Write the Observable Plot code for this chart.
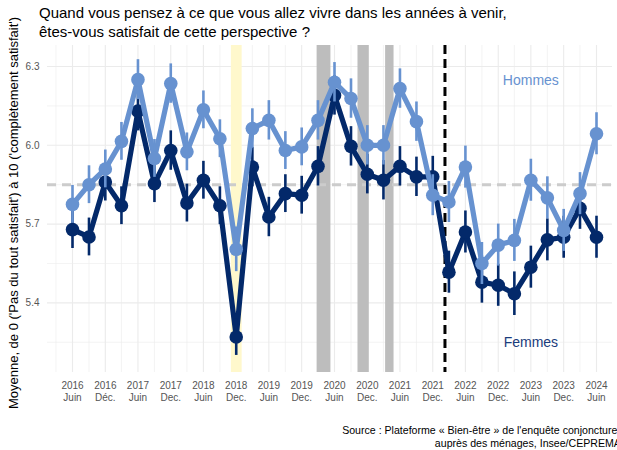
<!DOCTYPE html>
<html><head><meta charset="utf-8">
<script src="https://cdn.jsdelivr.net/npm/d3@7"></script>
<script src="https://cdn.jsdelivr.net/npm/@observablehq/plot@0.6"></script>
<style>
body{margin:0;width:617px;height:450px;overflow:hidden;background:#fff;font-family:"Liberation Sans",Arial,sans-serif;position:relative;}
#title{position:absolute;left:39px;top:3px;font-size:15px;line-height:19px;color:#000;white-space:nowrap;}
#chart{position:absolute;left:0;top:40px;}
#caption{position:absolute;left:0;top:424px;width:628px;text-align:right;font-size:10.6px;line-height:12.5px;color:#000;white-space:nowrap;}
</style></head><body>
<div id="title">Quand vous pensez à ce que vous allez vivre dans les années à venir,<br>êtes-vous satisfait de cette perspective ?</div>
<div id="chart"></div>
<div id="caption">Source : Plateforme « Bien-être » de l'enquête conjoncturelle<br>auprès des ménages, Insee/CEPREMAP</div>
<script>
// ---- data ----
const dates = ["2016-06","2016-09","2016-12","2017-03","2017-06","2017-09","2017-12","2018-03","2018-06","2018-09","2018-12",
  "2019-03","2019-06","2019-09","2019-12","2020-03","2020-06","2020-09","2020-12","2021-03","2021-06","2021-09","2021-12",
  "2022-03","2022-06","2022-09","2022-12","2023-03","2023-06","2023-09","2023-12","2024-03","2024-06"];
const hommes = [5.775,5.85,5.91,6.015,6.25,5.95,6.235,5.975,6.135,6.025,5.604,6.064,6.095,5.98,5.994,6.095,6.24,6.178,6.0,6.0,6.216,6.09,5.81,5.784,5.917,5.55,5.62,5.638,5.867,5.80,5.676,5.816,6.044];
const femmes = [5.679,5.651,5.86,5.77,6.13,5.854,5.98,5.78,5.867,5.77,5.27,5.917,5.727,5.816,5.81,5.92,6.19,5.996,5.89,5.867,5.92,5.88,5.88,5.517,5.67,5.479,5.467,5.435,5.536,5.64,5.65,5.76,5.65];
const ciHommes = [0.072,0.072,0.072,0.072,0.076,0.072,0.075,0.072,0.072,0.072,0.085,0.075,0.075,0.072,0.072,0.075,0.075,0.075,0.075,0.075,0.075,0.075,0.078,0.078,0.08,0.08,0.08,0.08,0.08,0.08,0.08,0.08,0.08];
const ciFemmes = [0.072,0.072,0.072,0.072,0.075,0.072,0.075,0.072,0.072,0.072,0.07,0.075,0.075,0.072,0.072,0.075,0.075,0.075,0.075,0.075,0.075,0.075,0.078,0.08,0.08,0.08,0.08,0.083,0.08,0.08,0.08,0.08,0.08];
const xTicks = ["2016-06","2016-12","2017-06","2017-12","2018-06","2018-12","2019-06","2019-12","2020-06","2020-12","2021-06","2021-12","2022-06","2022-12","2023-06","2023-12","2024-06"];
const xTickLabels = ["2016\nJuin","2016\nDéc.","2017\nJuin","2017\nDec.","2018\nJuin","2018\nDec.","2019\nJuin","2019\nDec.","2020\nJuin","2020\nDec.","2021\nJuin","2021\nDec.","2022\nJuin","2022\nDec.","2023\nJuin","2023\nDec.","2024\nJuin"];
const xMinorGrid = ["2016-03","2016-09","2017-03","2017-09","2018-03","2018-09","2019-03","2019-09","2020-03","2020-09","2021-03","2021-09","2022-03","2022-09","2023-03","2023-09","2024-03"];
const yTicks = [5.4, 5.7, 6.0, 6.3];
const yMinorGrid = [5.25, 5.55, 5.85, 6.15];
const yellowBand = {start:"2018-11-04", end:"2019-01-03"};
const greyBands = [{start:"2020-02-25", end:"2020-05-12"},{start:"2020-10-10", end:"2020-12-12"},{start:"2021-03-13", end:"2021-04-29"}];
const dashedDate = "2022-02-07";
const meanLine = 5.85;
const yLabel = "Moyenne, de 0 ('Pas du tout satisfait') à 10 ('complètement satisfait')";
const seriesLabels = [{name:"Hommes", date:"2023-06", v:6.247},{name:"Femmes", date:"2023-06", v:5.248}];

// ---- build ----
const pm = d3.utcParse("%Y-%m"), pd = d3.utcParse("%Y-%m-%d");
const colH = "#6792d0", colF = "#03296a";
const rowsH = dates.map((d,i)=>({date:pm(d), v:hommes[i], lo:hommes[i]-ciHommes[i], hi:hommes[i]+ciHommes[i]}));
const rowsF = dates.map((d,i)=>({date:pm(d), v:femmes[i], lo:femmes[i]-ciFemmes[i], hi:femmes[i]+ciFemmes[i]}));
const tickDates = xTicks.map(pm);
const labelMap = new Map(tickDates.map((d,i)=>[+d, xTickLabels[i]]));
const bandsG = greyBands.map(b=>({s:pd(b.start), e:pd(b.end)}));
const bandY = [{s:pd(yellowBand.start), e:pd(yellowBand.end)}];

const chart = Plot.plot({
  width: 617, height: 370,
  marginLeft: 47, marginRight: 5, marginTop: 5, marginBottom: 38,
  style: {overflow:"visible", fontFamily:"'Liberation Sans', Arial, sans-serif", color:"#555", background:"transparent"},
  x: {type:"utc", domain:[pm("2016-06"), pm("2024-06")], insetLeft:25, insetRight:16},
  y: {domain:[5.135, 6.38]},
  marks: [
    Plot.ruleX(xMinorGrid.map(pm), {stroke:"#ececec", strokeWidth:0.6}),
    Plot.ruleX(tickDates, {stroke:"#ebebeb", strokeWidth:1.1}),
    Plot.ruleY(yMinorGrid, {stroke:"#ececec", strokeWidth:0.6}),
    Plot.ruleY(yTicks, {stroke:"#ebebeb", strokeWidth:1.1}),
    Plot.rect(bandY, {x1:"s", x2:"e", fill:"#fff8cc"}),
    Plot.rect(bandsG, {x1:"s", x2:"e", fill:"#bdbdbd"}),
    Plot.ruleY([meanLine], {stroke:"#cccccc", strokeWidth:3, strokeDasharray:"9,6"}),
    Plot.ruleX([pd(dashedDate)], {stroke:"#000", strokeWidth:3, strokeDasharray:"9,5"}),
    Plot.line(rowsF, {x:"date", y:"v", stroke:colF, strokeWidth:5.2, curve:"linear"}),
    Plot.ruleX(rowsF, {x:"date", y1:"lo", y2:"hi", stroke:colF, strokeWidth:2.6}),
    Plot.dot(rowsF, {x:"date", y:"v", r:6.8, fill:colF}),
    Plot.line(rowsH, {x:"date", y:"v", stroke:colH, strokeWidth:5.2, curve:"linear"}),
    Plot.ruleX(rowsH, {x:"date", y1:"lo", y2:"hi", stroke:colH, strokeWidth:2.6}),
    Plot.dot(rowsH, {x:"date", y:"v", r:6.8, fill:colH}),
    Plot.text(seriesLabels, {x:d=>pm(d.date), y:"v", text:"name", fill:d=>d.name==="Hommes"?colH:"#1a3c7c", fontSize:14}),
    Plot.axisX(tickDates, {tickSize:0, tickPadding:8, tickFormat:d=>labelMap.get(+d), fontSize:10, lineHeight:1.2, label:null, fill:"#555"}),
    Plot.axisY(yTicks, {tickSize:0, tickPadding:8, tickFormat:d3.format(".1f"), fontSize:10, label:null, fill:"#555"})
  ]
});
// rotated y-axis title, centred on the panel
d3.select(chart).append("text")
  .attr("transform", "translate(13,173) rotate(-90)")
  .attr("text-anchor", "middle")
  .attr("dy", "0.35em")
  .attr("font-size", 13)
  .attr("fill", "#000")
  .text(yLabel);
document.getElementById("chart").appendChild(chart);
</script>
</body></html>
